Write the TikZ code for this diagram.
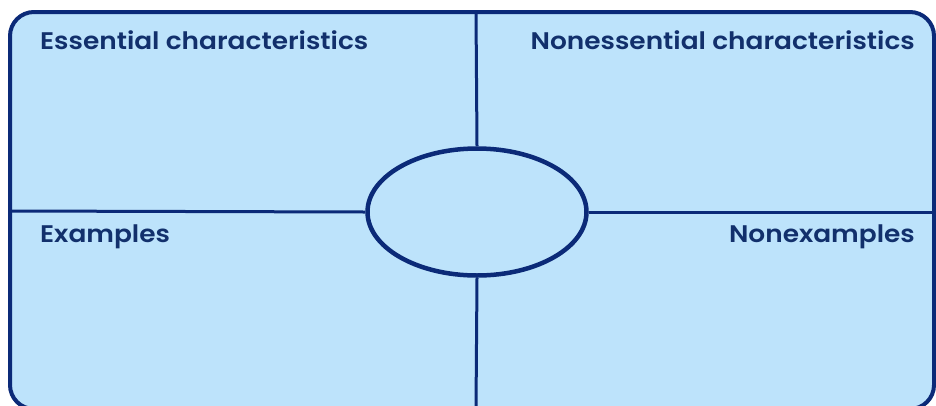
\documentclass[tikz,border=0pt]{standalone}
\usepackage{fontspec}
\setmainfont{Poppins}[UprightFont=* SemiBold, FakeStretch=1.1]
\usetikzlibrary{shapes.geometric}
\definecolor{fillblue}{HTML}{BDE3FB}
\definecolor{navy}{HTML}{0B2A78}
\definecolor{txt}{HTML}{12306C}
\tikzset{
  frame/.style={draw=navy, fill=fillblue, line width=4pt, rounded corners=24pt},
  divider/.style={draw=navy, line width=3pt},
  hub/.style={ellipse, draw=navy, fill=fillblue, line width=4.5pt, minimum width=219pt, minimum height=127pt, inner sep=0pt},
  lbl/.style={text=txt, font=\fontsize{24}{28}\selectfont, inner sep=0pt}
}
\begin{document}
\begin{tikzpicture}[x=1pt,y=-1pt]
\useasboundingbox (0,0) rectangle (936,405);
\fill[white] (0,0) rectangle (936,405);
\draw[frame] (10,12) rectangle (934,409);
\coordinate (topmid) at (476,12);
\coordinate (botmid) at (476,409);
\coordinate (leftmid) at (10,211);
\coordinate (rightmid) at (934,212);
\node[hub] (c) at (477,212) {};
\draw[divider] (topmid) -- (c.north);
\draw[divider] (c.south) -- (botmid);
\draw[divider] (leftmid) -- (c.west);
\draw[divider] (c.east) -- (rightmid);
\node[lbl, anchor=base west] (ess) at (40,49) {Essential characteristics};
\node[lbl, anchor=base east] (non) at (915,49) {Nonessential characteristics};
\node[lbl, anchor=base west] (ex) at (40,242) {Examples};
\node[lbl, anchor=base east] (nonex) at (915,242) {Nonexamples};
\end{tikzpicture}
\end{document}
